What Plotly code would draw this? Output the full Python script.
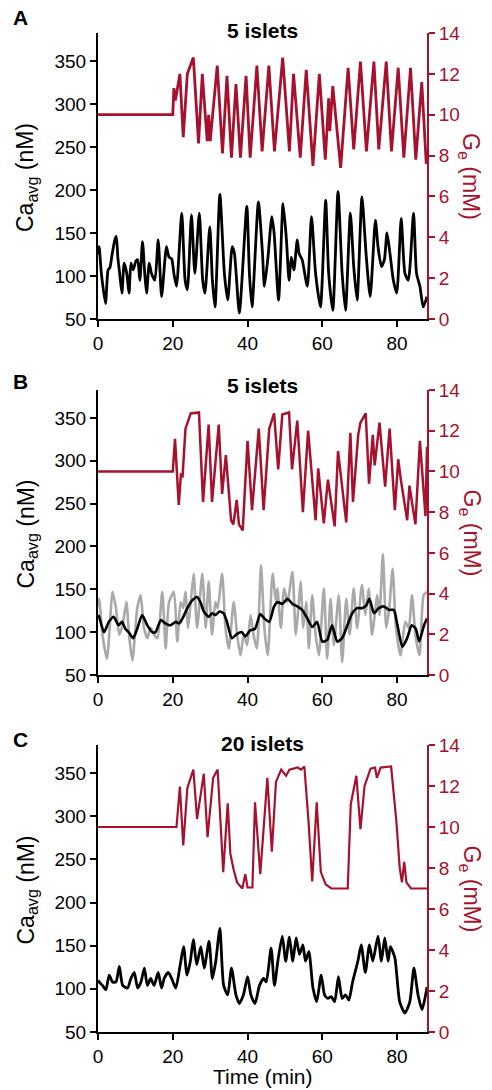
import plotly.graph_objects as go

RED = "#A6122E"
GRAY = "#A9A9A9"
FONT = "Liberation Sans, Arial, sans-serif"

# ---------------- Panel A ----------------
a_ge_t = [0, 20.0, 20.3, 20.7, 21.9, 22.8, 23.9, 25.5, 26.9, 27.9, 29.2, 29.6, 30.0, 31.9, 33.3, 34.5, 35.7, 36.9, 38.1, 39.6,
          40.7, 42.5, 43.9, 45.7, 47.2, 49.4, 51.2, 52.3, 54.1, 55.7, 57.5, 59.2, 60.8, 61.7, 62.0, 62.8, 64.9, 66.9, 68.4, 70.2,
          71.8, 73.8, 75.1, 77.1, 78.5, 80.3, 81.8, 83.6, 85.0, 86.6, 87.8, 88.0]
a_ge = [10, 10, 11.3, 10.7, 12.0, 8.9, 12.0, 12.8, 8.6, 12.0, 8.7, 10.0, 8.7, 12.4, 8.1, 11.9, 7.9, 11.5, 7.9, 11.9,
        7.9, 12.4, 8.2, 12.4, 8.2, 12.8, 8.2, 12.0, 7.9, 12.2, 7.5, 12.0, 7.8, 10.8, 9.2, 11.4, 7.4, 12.3, 8.3, 12.6,
        8.2, 12.6, 8.3, 12.6, 8.2, 12.3, 7.9, 12.3, 7.8, 11.6, 7.6, 7.8]

a_ca_t = [0.0, 0.3, 0.9, 2.0, 2.7, 3.2, 3.8, 4.5, 4.9, 5.3, 5.8, 6.4, 7.0, 7.7, 8.3, 8.8, 9.4, 10.1, 10.6, 11.2,
          11.9, 12.5, 13.0, 13.7, 14.3, 15.2, 16.1, 17.0, 17.9, 18.3, 19.0, 19.7, 20.3, 21.0, 22.4, 23.3, 23.9, 25.0, 25.9, 27.1,
          28.0, 28.6, 29.9, 30.6, 31.3, 32.6, 33.8, 34.7, 35.9, 36.5, 37.8, 39.8, 40.5, 41.2, 42.9, 44.0, 44.5, 45.4, 46.5, 47.1,
          48.3, 49.5, 50.4, 51.1, 51.7, 52.4, 53.3, 53.8, 54.6, 56.0, 57.1, 58.2, 59.5, 60.9, 61.7, 62.8, 64.2, 65.3, 66.2, 67.5,
          68.4, 69.3, 70.6, 71.7, 72.8, 74.2, 74.9, 75.8, 76.6, 77.3, 78.1, 79.0, 79.9, 81.1, 82.1, 83.0, 84.4, 85.2, 86.1, 87.0,
          88.0]
a_ca = [125, 134, 103, 68, 107, 110, 126, 142, 146, 122, 103, 80, 115, 103, 80, 115, 107, 117, 119, 95,
        140, 103, 80, 115, 103, 95, 142, 76, 119, 134, 122, 120, 103, 88, 173, 95, 84, 171, 103, 173,
        95, 80, 157, 95, 64, 195, 103, 72, 134, 126, 57, 181, 103, 64, 186, 126, 88, 119, 169, 150,
        72, 184, 142, 95, 122, 107, 142, 126, 119, 88, 169, 103, 64, 188, 103, 60, 198, 103, 60, 173,
        111, 72, 192, 126, 76, 165, 134, 111, 119, 150, 126, 95, 80, 167, 103, 95, 173, 103, 88, 64,
        76]

# ---------------- Panel B ----------------
b_ge_t = [0, 20.0, 20.6, 21.6, 22.2, 22.6, 23.4, 24.8, 27.0, 28.1, 29.6, 30.5, 32.3, 33.2, 34.2, 35.6, 36.2, 37.1, 37.7, 38.7,
          40.0, 41.2, 43.0, 44.3, 45.8, 47.1, 48.2, 49.3, 51.1, 51.9, 53.3, 54.8, 56.2, 58.2, 58.9, 60.4, 61.5, 63.3, 64.2, 66.4,
          67.5, 68.2, 69.6, 70.2, 71.6, 72.5, 73.5, 74.0, 75.3, 76.8, 78.0, 79.4, 80.3, 81.0, 82.7, 83.3, 84.9, 86.1, 87.6, 88.0]
b_ge = [10, 10, 11.6, 8.35, 9.9, 9.7, 12.1, 12.85, 12.9, 8.5, 12.3, 8.5, 12.3, 8.9, 10.8, 7.6, 7.4, 8.6, 7.4, 7.1,
        11.5, 8.1, 12.1, 8.1, 12.1, 12.85, 10.1, 12.8, 12.9, 10.1, 12.5, 8.0, 12.0, 7.6, 10.15, 7.45, 9.6, 7.3, 11.0, 7.5,
        11.9, 8.5, 11.8, 12.4, 12.85, 9.4, 11.8, 10.3, 12.4, 9.25, 12.1, 8.1, 10.6, 9.6, 7.6, 9.3, 7.4, 11.5, 7.8, 11.2]

b_raw_t = [0.0, 0.3, 1.2, 2.4, 3.9, 4.8, 5.7, 6.6, 7.6, 8.3, 9.2, 10.5, 11.4, 12.3, 13.2, 14.1, 15.0, 15.9, 17.2, 18.1,
           19.0, 20.3, 21.2, 22.1, 22.8, 23.4, 24.1, 24.8, 25.6, 26.5, 27.9, 28.8, 29.6, 30.5, 31.4, 32.0, 33.2, 34.1, 35.0, 36.3,
           37.2, 38.1, 39.0, 39.9, 40.8, 41.6, 42.5, 43.6, 44.5, 45.4, 46.7, 47.6, 48.0, 48.9, 49.8, 50.7, 52.0, 52.9, 53.6, 54.2,
           54.9, 55.7, 56.4, 57.3, 58.2, 59.1, 60.4, 61.3, 62.2, 63.1, 64.4, 65.3, 66.4, 67.3, 68.4, 69.3, 70.6, 71.5, 72.4, 73.3,
           74.7, 75.3, 76.2, 77.1, 77.9, 78.8, 79.7, 80.9, 82.2, 83.1, 84.0, 84.9, 86.0, 87.1, 88.0]
b_raw = [130, 139, 97, 69, 147, 128, 97, 109, 135, 97, 67, 128, 143, 105, 93, 105, 97, 93, 147, 81,
         135, 147, 89, 135, 128, 147, 105, 135, 168, 105, 168, 105, 159, 97, 135, 128, 168, 105, 81, 135,
         97, 73, 97, 85, 120, 97, 81, 178, 105, 73, 168, 135, 151, 105, 151, 135, 170, 97, 128, 159,
         105, 135, 81, 143, 97, 73, 151, 69, 139, 85, 143, 65, 139, 97, 151, 105, 155, 120, 151, 97,
         143, 120, 191, 105, 128, 174, 105, 73, 112, 105, 143, 97, 73, 143, 147]

b_avg_t = [0.0, 0.3, 1.6, 2.9, 4.2, 5.5, 6.4, 7.3, 8.2, 9.4, 10.5, 11.8, 13.2, 14.5, 15.4, 16.8, 18.1, 19.4, 20.8, 21.7,
           22.6, 23.9, 25.2, 26.5, 27.4, 28.3, 29.6, 30.5, 31.4, 32.5, 33.6, 34.5, 35.8, 37.2, 38.5, 39.4, 40.7, 42.0, 43.4, 44.5,
           45.8, 47.1, 48.0, 49.3, 50.7, 52.0, 53.3, 54.6, 56.0, 57.3, 58.6, 60.0, 61.3, 62.6, 64.0, 65.3, 66.7, 68.0, 69.3, 70.6,
           71.7, 72.6, 73.8, 75.1, 76.5, 77.8, 79.1, 80.1, 81.4, 82.7, 83.9, 85.0, 85.9, 87.2, 88.0]
b_avg = [120, 118, 100, 112, 118, 108, 112, 104, 100, 93, 104, 120, 108, 100, 100, 114, 110, 108, 112, 110,
         116, 128, 137, 141, 135, 124, 118, 122, 120, 124, 122, 112, 93, 98, 100, 95, 102, 104, 121, 116,
         112, 130, 135, 133, 139, 133, 130, 126, 116, 106, 112, 89, 91, 108, 89, 93, 108, 122, 128, 128,
         131, 139, 122, 128, 130, 126, 126, 108, 83, 93, 108, 104, 89, 108, 116]

# ---------------- Panel C ----------------
c_ge_t = [0, 21.0, 21.9, 22.8, 23.9, 25.5, 26.5, 28.3, 29.3, 30.8, 32.0, 33.5, 34.7, 35.4, 36.3, 37.2, 38.6, 39.4, 40.0, 41.3,
          42.0, 43.4, 45.3, 46.5, 47.6, 49.0, 50.3, 51.2, 53.4, 54.3, 55.2, 56.3, 57.3, 58.5, 59.6, 60.9, 62.4, 66.8, 67.6, 69.1,
          70.2, 71.3, 72.9, 74.1, 74.6, 75.6, 78.4, 79.8, 80.7, 81.3, 81.9, 82.5, 83.7, 88.0]
c_ge = [10, 10, 11.97, 9.1, 11.9, 12.8, 10.4, 12.6, 9.5, 12.4, 12.8, 7.8, 11.15, 8.7, 7.9, 7.3, 7.0, 7.7, 7.05, 7.05,
        11.2, 7.7, 12.4, 8.8, 12.2, 12.8, 12.5, 12.8, 12.9, 12.8, 12.95, 10.3, 7.35, 11.2, 7.8, 7.2, 7.0, 7.0, 11.1, 12.5,
        9.9, 12.0, 12.85, 12.9, 12.4, 12.9, 12.95, 10.3, 8.0, 7.3, 8.3, 7.3, 7.0, 7.0]

c_ca_t = [0.0, 0.3, 1.2, 2.1, 3.0, 3.9, 4.8, 5.7, 6.6, 7.9, 8.8, 9.7, 10.6, 11.5, 12.4, 13.2, 14.1, 15.0, 16.1, 17.0,
          17.7, 18.8, 19.7, 20.8, 22.0, 22.9, 23.8, 24.7, 25.5, 26.4, 27.5, 28.4, 29.7, 30.6, 31.5, 32.6, 33.6, 34.7, 35.7, 36.9,
          37.8, 38.9, 40.0, 40.9, 42.0, 43.2, 44.3, 45.0, 46.3, 47.2, 48.1, 49.3, 50.2, 51.2, 52.1, 53.0, 53.9, 54.8, 55.5, 56.4,
          57.5, 58.5, 59.7, 60.6, 61.5, 62.4, 63.3, 64.3, 65.3, 66.2, 67.1, 68.1, 69.5, 70.4, 71.5, 72.6, 73.5, 74.9, 75.8, 76.7,
          77.6, 78.2, 79.4, 80.7, 82.1, 83.4, 84.5, 85.6, 86.7, 87.8, 88.0]
c_ca = [110, 108, 104, 99, 116, 108, 108, 126, 104, 101, 112, 119, 101, 108, 124, 104, 112, 104, 119, 101,
        112, 119, 112, 101, 128, 149, 116, 132, 157, 128, 149, 124, 155, 112, 132, 170, 104, 93, 124, 93,
        83, 93, 114, 93, 83, 104, 112, 108, 147, 104, 132, 161, 132, 160, 132, 159, 140, 151, 132, 143,
        101, 85, 116, 93, 89, 91, 85, 114, 89, 93, 87, 108, 132, 151, 119, 151, 132, 161, 132, 159,
        132, 149, 136, 85, 72, 85, 124, 93, 76, 97, 102]

panel_letters = ["A", "B", "C"]
panel_titles = ["5 islets", "5 islets", "20 islets"]
time_ticks = [0, 20, 40, 60, 80]
ca_ticks = [50, 100, 150, 200, 250, 300, 350]
ge_ticks = [0, 2, 4, 6, 8, 10, 12, 14]

for a, b in [(a_ge_t, a_ge), (a_ca_t, a_ca), (b_ge_t, b_ge), (b_raw_t, b_raw), (b_avg_t, b_avg),
             (c_ge_t, c_ge), (c_ca_t, c_ca)]:
    assert len(a) == len(b), (len(a), len(b))

W, H = 492, 1090
X0, X1 = 98, 427
panels_px = [(33, 319), (390, 675), (745, 1032)]  # top, bottom in pixels
letter_px = [18, 381, 739]
title_px = [30, 386, 743]

fig = go.Figure()


def add(x, y, xa, ya, color, width, shape="linear"):
    fig.add_trace(go.Scatter(x=x, y=y, xaxis=xa, yaxis=ya, mode="lines",
                             line=dict(color=color, width=width, shape=shape,
                                       smoothing=0.6 if shape == "spline" else None),
                             hoverinfo="skip", showlegend=False))


add(a_ca_t, a_ca, "x", "y", "black", 2.8, "spline")
add(a_ge_t, a_ge, "x", "y2", RED, 2.8)
add(b_raw_t, b_raw, "x2", "y3", GRAY, 2.6, "spline")
add(b_avg_t, b_avg, "x2", "y3", "black", 2.6, "spline")
add(b_ge_t, b_ge, "x2", "y4", RED, 2.5)
add(c_ca_t, c_ca, "x3", "y5", "black", 2.8, "spline")
add(c_ge_t, c_ge, "x3", "y6", RED, 2.2)

tickfont = dict(family=FONT, size=19, color="black")
layout = dict(width=W, height=H, margin=dict(l=0, r=0, t=0, b=0, pad=0, autoexpand=False),
              paper_bgcolor="white", plot_bgcolor="white", showlegend=False,
              font=dict(family=FONT, color="black"))

annotations = []
for i, (top, bot) in enumerate(panels_px):
    n = i + 1
    xname = "xaxis" if n == 1 else f"xaxis{n}"
    yl = 2 * i + 1
    yr = 2 * i + 2
    ylname = "yaxis" if yl == 1 else f"yaxis{yl}"
    yrname = f"yaxis{yr}"
    ydom = [1 - bot / H, 1 - top / H]
    layout[xname] = dict(domain=[X0 / W, X1 / W], range=[0, 88], tickvals=time_ticks,
                         showline=True, linecolor="black", linewidth=2, ticks="outside",
                         ticklen=6, tickwidth=2, tickcolor="black", showgrid=False, zeroline=False,
                         tickfont=tickfont, anchor="y" if yl == 1 else f"y{yl}", automargin=False)
    layout[ylname] = dict(domain=ydom, range=[50, 382.5], tickvals=ca_ticks,
                          showline=True, linecolor="black", linewidth=2, ticks="outside",
                          ticklen=6, tickwidth=2, tickcolor="black", showgrid=False, zeroline=False,
                          tickfont=tickfont, anchor="x" if n == 1 else f"x{n}", automargin=False)
    layout[yrname] = dict(domain=ydom, range=[0, 14], tickvals=ge_ticks, side="right",
                          overlaying="y" if yl == 1 else f"y{yl}",
                          showline=True, linecolor=RED, linewidth=2, ticks="outside",
                          ticklen=6, tickwidth=2, tickcolor=RED, showgrid=False, zeroline=False,
                          tickfont=dict(family=FONT, size=19, color=RED),
                          anchor="x" if n == 1 else f"x{n}", automargin=False)
    mid = (top + bot) / 2
    annotations.append(dict(text=f"<b>{panel_letters[i]}</b>", x=20 / W, y=1 - letter_px[i] / H,
                            xref="paper", yref="paper", showarrow=False, xanchor="center", yanchor="middle",
                            font=dict(family=FONT, size=21, color="black")))
    annotations.append(dict(text=f"<b>{panel_titles[i]}</b>", x=(X0 + X1) / 2 / W, y=1 - title_px[i] / H,
                            xref="paper", yref="paper", showarrow=False, xanchor="center", yanchor="middle",
                            font=dict(family=FONT, size=21, color="black")))
    annotations.append(dict(text="Ca<sub>avg</sub> (nM)", x=27 / W, y=1 - (mid + 2) / H,
                            xref="paper", yref="paper", showarrow=False, textangle=-90,
                            xanchor="center", yanchor="middle",
                            font=dict(family=FONT, size=23, color="black")))
    annotations.append(dict(text="G<sub>e</sub> (mM)", x=470 / W, y=1 - mid / H,
                            xref="paper", yref="paper", showarrow=False, textangle=90,
                            xanchor="center", yanchor="middle",
                            font=dict(family=FONT, size=23, color=RED)))

annotations.append(dict(text="Time (min)", x=(X0 + X1) / 2 / W, y=1 - 1076 / H,
                        xref="paper", yref="paper", showarrow=False, xanchor="center", yanchor="middle",
                        font=dict(family=FONT, size=21, color="black")))
layout["annotations"] = annotations
fig.update_layout(**layout)
fig.write_html("out.html", config={"displayModeBar": False},
               post_script="document.body.style.margin='0';document.body.style.overflow='hidden';")
